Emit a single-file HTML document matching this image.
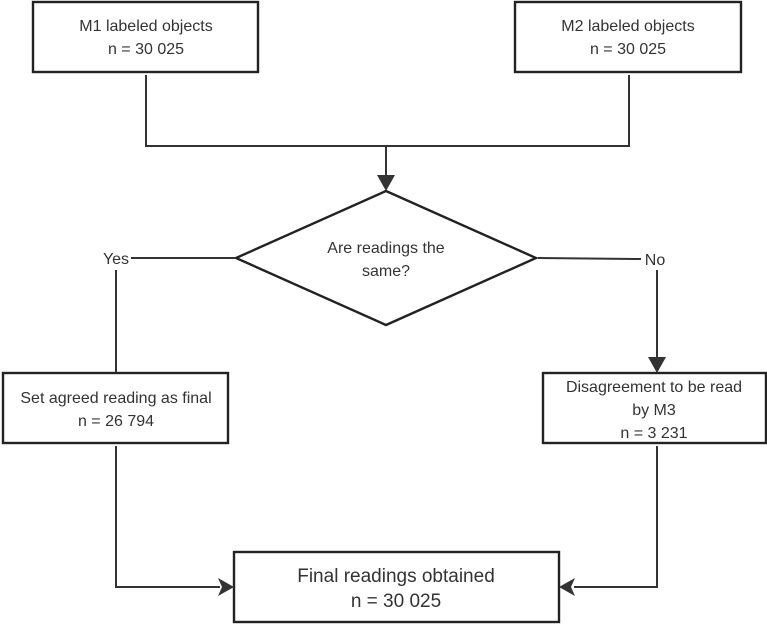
<!DOCTYPE html>
<html><head><style>body{margin:0;background:#fff}svg{display:block}text{font-family:"Liberation Sans",sans-serif;font-size:16px;fill:#333;text-anchor:middle}</style></head>
<body>
<svg width="767" height="626" viewBox="0 0 767 626">
<g fill="none" stroke="#222" stroke-width="2.4">
<rect x="33" y="2" width="225" height="70"/>
<rect x="515" y="2" width="226" height="70"/>
<rect x="3" y="373" width="225" height="70"/>
<rect x="543" y="373" width="223" height="70"/>
<rect x="234" y="552" width="325" height="70"/>
<polygon points="386,191 536,258 386,325 236,258"/>
<g stroke="#333" stroke-width="2">
<polyline points="146,75 146,146 629,146 629,75"/>
<line x1="386" y1="146" x2="386" y2="178"/>
<line x1="131" y1="258" x2="236" y2="258"/>
<line x1="116" y1="270" x2="116" y2="373"/>
<line x1="538" y1="258" x2="641" y2="259"/>
<line x1="657" y1="270" x2="657" y2="360"/>
<polyline points="116,446 116,587 220,587"/>
<polyline points="657,446 657,587 574,587"/>
</g>
</g>
<g fill="#333">
<polygon points="377,175 395,175 386,191 "/>
<polygon points="648,357 666,357 657,373"/>
<polygon points="218,578 234,587 218,596 222,587"/>
<polygon points="575,578 559,587 575,596 571,587"/>
</g>
<text x="146" y="31">M1 labeled objects</text>
<text x="146" y="54">n = 30 025</text>
<text x="628" y="31">M2 labeled objects</text>
<text x="628" y="54">n = 30 025</text>
<text x="386" y="253">Are readings the</text>
<text x="386" y="276">same?</text>
<text x="116" y="264">Yes</text>
<text x="655" y="265">No</text>
<text x="116" y="403">Set agreed reading as final</text>
<text x="116" y="426">n = 26 794</text>
<text x="654" y="392">Disagreement to be read</text>
<text x="654" y="415">by M3</text>
<text x="654" y="438">n = 3 231</text>
<text x="396" y="582" style="font-size:19px">Final readings obtained</text>
<text x="396" y="607" style="font-size:19px">n = 30 025</text>
</svg>
</body></html>
